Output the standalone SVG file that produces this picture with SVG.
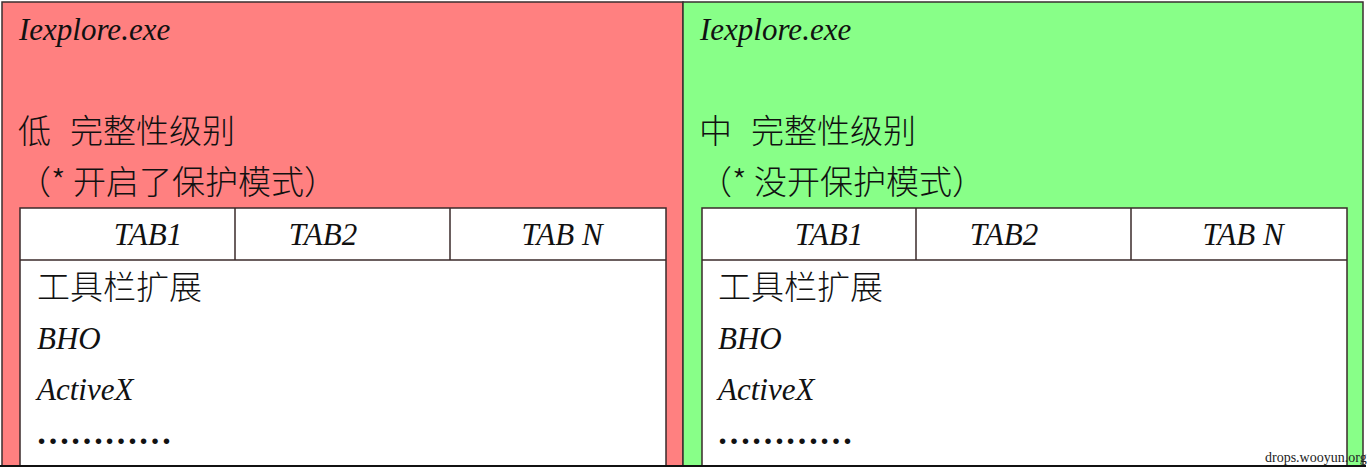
<svg xmlns="http://www.w3.org/2000/svg" width="1370" height="470" viewBox="0 0 1370 470">
<style>
.panel{stroke:#3a2f2f;stroke-width:1.5}
.box{fill:#ffffff;stroke:#3a2a2a;stroke-width:1.5}
.ln{stroke:#3a2a2a;stroke-width:1.5}
.lat{font-family:"Liberation Serif",serif;font-style:italic;font-size:31px;fill:#111}
.cjk{font-family:"Noto Sans CJK SC",sans-serif;font-weight:300;font-size:33px;fill:#111}
.tab{font-family:"Liberation Serif",serif;font-style:italic;font-size:31px;fill:#111;text-anchor:middle}
.dots{font-family:"Liberation Serif",serif;font-size:34px;font-weight:bold;fill:#111}
.wm{font-family:"Liberation Serif",serif;font-size:14px;fill:#222}
</style>
<rect width="1370" height="470" fill="#ffffff"/>
<g id="low-panel">
<rect class="panel" x="2" y="2" width="681" height="464" fill="#ff8080"/>
<text class="lat" x="19" y="40">Iexplore.exe</text>
<text class="cjk" x="18" y="143">低</text>
<text class="cjk" x="70" y="143">完整性级别</text>
<text class="cjk" x="18" y="194">（* 开启了保护模式）</text>
</g>
<g id="low-box">
<rect class="box" x="20" y="208" width="646" height="258"/>
<line class="ln" x1="20" y1="260" x2="666" y2="260"/>
<line class="ln" x1="235" y1="208" x2="235" y2="260"/>
<line class="ln" x1="450" y1="208" x2="450" y2="260"/>
<text class="tab" x="148" y="245">TAB1</text>
<text class="tab" x="323" y="245">TAB2</text>
<text class="tab" x="562" y="245">TAB N</text>
<text class="cjk" x="37" y="299">工具栏扩展</text>
<text class="lat" x="37" y="349">BHO</text>
<text class="lat" x="37" y="400">ActiveX</text>
<text class="dots" x="36" y="444">…………</text>
</g>
<g id="medium-panel">
<rect class="panel" x="683" y="2" width="680" height="464" fill="#88ff88"/>
<text class="lat" x="700" y="40">Iexplore.exe</text>
<text class="cjk" x="699" y="143">中</text>
<text class="cjk" x="751" y="143">完整性级别</text>
<text class="cjk" x="699" y="194">（* 没开保护模式）</text>
</g>
<g id="medium-box">
<rect class="box" x="702" y="208" width="645" height="258"/>
<line class="ln" x1="702" y1="260" x2="1347" y2="260"/>
<line class="ln" x1="916" y1="208" x2="916" y2="260"/>
<line class="ln" x1="1131" y1="208" x2="1131" y2="260"/>
<text class="tab" x="829" y="245">TAB1</text>
<text class="tab" x="1004" y="245">TAB2</text>
<text class="tab" x="1243" y="245">TAB N</text>
<text class="cjk" x="718" y="299">工具栏扩展</text>
<text class="lat" x="718" y="349">BHO</text>
<text class="lat" x="718" y="400">ActiveX</text>
<text class="dots" x="717" y="444">…………</text>
</g>
<g id="connectors"></g>
<line x1="0" y1="466" x2="1366" y2="466" stroke="#111" stroke-width="2"/>
<text class="wm" x="1265" y="462">drops.wooyun.org</text>
</svg>
